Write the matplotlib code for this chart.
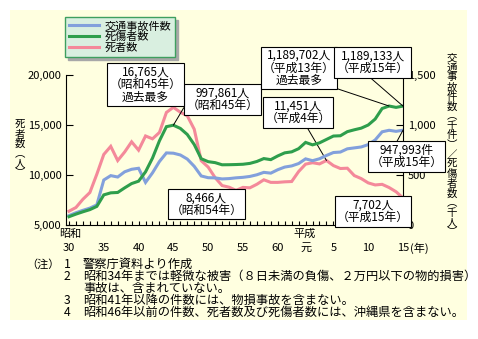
import matplotlib
matplotlib.use('Agg')
import matplotlib.pyplot as plt
from matplotlib.patches import Rectangle

plt.rcParams['font.family'] = ['Noto Sans CJK JP', 'DejaVu Sans']

# 年次（昭和30年=1955 〜 平成15年=2003）
years = list(range(1955, 2004))
# 死者数（人）
deaths = [6379, 6751, 7575, 8248, 10079, 12055, 12865, 11445, 12301, 13318,
          12484, 13904, 13618, 14256, 16257, 16765, 16278, 15918, 14574, 11432,
          10792, 9734, 8945, 8783, 8466, 8760, 8719, 9073, 9520, 9262,
          9261, 9317, 9347, 10344, 11086, 11227, 11109, 11451, 10942, 10649,
          10679, 9942, 9640, 9211, 9006, 9066, 8747, 8326, 7702]
# 死傷者数（千人）
casualties = [82.9, 108.8, 132.1, 153.7, 186.0, 301.2, 321.6, 325.3, 371.4, 414.4,
              438.2, 531.7, 669.0, 842.3, 983.3, 997.9, 966.0, 905.1, 804.5, 662.9,
              633.3, 623.7, 602.2, 602.9, 604.7, 607.5, 616.1, 635.3, 664.3, 653.6,
              690.6, 721.6, 731.5, 763.2, 825.9, 801.5, 821.4, 855.5, 889.6, 892.4,
              933.4, 952.1, 968.6, 999.9, 1059.4, 1164.8, 1189.7, 1176.2, 1189.1]
# 交通事故件数（千件）
accidents = [94.0, 122.7, 146.8, 168.8, 201.3, 449.9, 493.7, 479.8, 532.0, 557.2,
             567.3, 425.9, 521.5, 635.1, 720.9, 718.1, 700.3, 659.3, 586.7, 490.5,
             472.9, 471.0, 460.6, 464.0, 471.6, 476.7, 485.6, 502.3, 526.4, 518.6,
             552.8, 579.2, 590.7, 614.5, 661.4, 643.1, 662.4, 695.3, 724.7, 729.5,
             761.8, 771.1, 780.4, 803.9, 850.4, 931.9, 947.2, 936.7, 948.0]

label_years = [1955, 1960, 1965, 1970, 1975, 1980, 1985, 1989, 1993, 1998, 2003]
label_text = ['30', '35', '40', '45', '50', '55', '60', '元', '5', '10', '15']
left_ticks = [5000, 10000, 15000, 20000]
left_labels = ['5,000', '10,000', '15,000', '20,000']
right_ticks = [0, 500, 1000, 1500]
right_labels = ['0', '500', '1,000', '1,500']

c_acc = '#82A0DC'
c_cas = '#2E9E4C'
c_dea = '#F4899A'
bg = '#FFFFE0'

W, H = 478, 339
def fx(x):
    return x / W
def fy(y):
    return 1 - y / H

fig = plt.figure(figsize=(W / 100, H / 100), dpi=100)
fig.patches.append(Rectangle((fx(10), fy(320)), (467 - 10) / W, (320 - 10) / H,
                             transform=fig.transFigure, facecolor=bg, edgecolor='none',
                             zorder=-5))

ax = fig.add_axes([fx(66), fy(225), (403 - 66) / W, 150 / H])
ax.set_facecolor('none')
ax2 = ax.twinx()
ax2.set_facecolor('none')

l1, = ax2.plot(years, accidents, color=c_acc, lw=2.2, solid_joinstyle='miter')
l2, = ax2.plot(years, casualties, color=c_cas, lw=2.2, solid_joinstyle='miter')
l3, = ax.plot(years, deaths, color=c_dea, lw=2.2, solid_joinstyle='miter')

ax.set_xlim(1954.57, 2003)
ax.set_ylim(5000, 20000)
ax2.set_ylim(0, 1500)

for a in (ax, ax2):
    a.spines['top'].set_visible(False)
    for s in a.spines.values():
        s.set_linewidth(0.8)
ax2.spines['left'].set_visible(False)
ax2.spines['bottom'].set_visible(False)
ax.spines['right'].set_visible(False)

ax.set_yticks(left_ticks, left_labels)
ax2.set_yticks(right_ticks, right_labels)
ax.tick_params(axis='y', direction='in', length=5, width=0.8, labelsize=8, pad=3)
ax2.tick_params(axis='y', direction='in', length=5, width=0.8, labelsize=8, pad=3.5)

ax.set_xticks(label_years, label_text)
ax.set_xticks(years, minor=True)
ax.tick_params(axis='x', which='both', direction='in', length=3, width=0.8, labelsize=8, pad=13)

fig.text(fx(59), fy(233.5), '昭和', fontsize=8, ha='left', va='center')
fig.text(fx(305), fy(233.5), '平成', fontsize=8, ha='center', va='center')
fig.text(fx(410), fy(248), '(年)', fontsize=8, ha='left', va='center')

# 縦書きの軸ラベル
for i, ch in enumerate('死者数︵人︶'):
    fig.text(fx(20), fy(125 + i * 9.6), ch, fontsize=7.5, ha='center', va='center')
for i, ch in enumerate('交通事故件数︵千件︶／死傷者数︵千人︶'):
    fig.text(fx(452), fy(58 + i * 9.67), ch, fontsize=7.5, ha='center', va='center')

fig.legend([l1, l2, l3], ['交通事故件数', '死傷者数', '死者数'], loc='upper left',
           bbox_to_anchor=(fx(65), fy(17)), fontsize=8, handlelength=2.7,
           handletextpad=0.5, labelspacing=0.05, borderpad=0.35, borderaxespad=0,
           fancybox=False, shadow={'color': '#A8A8A8', 'alpha': 1}, framealpha=1,
           facecolor='#D9EFE0', edgecolor='#3F9F5F')

box = dict(boxstyle='square,pad=0.2', fc='white', ec='black', lw=0.8)
fs = 8.5

def note(txt, cx, cy):
    fig.text(fx(cx), fy(cy), txt, fontsize=fs, ha='center', va='center',
             multialignment='center', linespacing=0.95, bbox=box)

def callout(txt, a, yr, val, cx, cy, rel):
    a.annotate(txt, xy=(yr, val), xycoords='data', xytext=(fx(cx), fy(cy)),
               textcoords='figure fraction', fontsize=fs, ha='center', va='center',
               multialignment='center', linespacing=0.95, bbox=box, annotation_clip=False,
               arrowprops=dict(arrowstyle='-', color='black', lw=0.7, relpos=rel,
                               shrinkA=0, shrinkB=0))

i70 = years.index(1970)
i79 = years.index(1979)
i92 = years.index(1992)
i01 = years.index(2001)
i03 = years.index(2003)

note(f'{deaths[i70]:,}人\n（昭和45年）\n過去最多', 145.5, 84.5)
callout('997,861人\n（昭和45年）', ax2, 1970, casualties[i70], 222.5, 99.5, (0, 0.36))
note(f'{deaths[i79]:,}人\n（昭和54年）', 206.5, 204)
callout(f'{deaths[i92]:,}人\n（平成4年）', ax, 1992, deaths[i92], 298, 112.5, (0.62, 0))
callout('1,189,702人\n（平成13年）\n過去最多', ax2, 2001, casualties[i01], 299, 68, (0.96, 0))
callout('1,189,133人\n（平成15年）', ax2, 2003, casualties[i03], 372.5, 62.5, (0.43, 0))
callout('947,993件\n（平成15年）', ax2, 2003, accidents[i03], 406.5, 156.5, (0.35, 1))
note(f'{deaths[i03]:,}人\n（平成15年）', 373, 211.5)

# 注記
fn = 8.8
rows = [264.5, 276.5, 288.5, 300.5, 312.5]
fig.text(fx(26), fy(rows[0]), '（注）', fontsize=8, ha='left', va='center')
nums = ['1', '2', '', '3', '4']
lines = ['警察庁資料より作成',
         '昭和34年までは軽微な被害（８日未満の負傷、２万円以下の物的損害）',
         '事故は、含まれていない。',
         '昭和41年以降の件数には、物損事故を含まない。',
         '昭和46年以前の件数、死者数及び死傷者数には、沖縄県を含まない。']
for y, n, t in zip(rows, nums, lines):
    if n:
        fig.text(fx(64), fy(y), n, fontsize=fn, ha='left', va='center')
    fig.text(fx(83), fy(y), t, fontsize=fn, ha='left', va='center')

fig.savefig('out.png', dpi=100)
